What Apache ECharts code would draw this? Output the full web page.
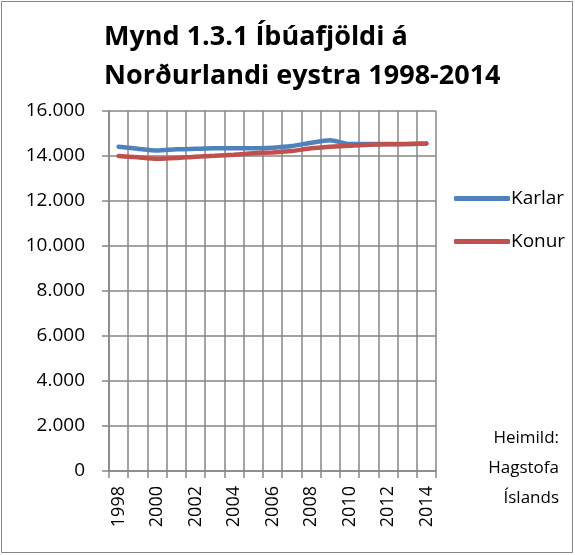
<!DOCTYPE html>
<html>
<head>
<meta charset="utf-8">
<title>Íbúafjöldi á Norðurlandi eystra</title>
<script src="https://cdn.jsdelivr.net/npm/echarts@6/dist/echarts.min.js"></script>
<style>
  html, body { margin: 0; padding: 0; background: #fff; }
  #chart { width: 575px; height: 555px; }
</style>
</head>
<body>
<div id="chart"></div>
<script>
// ár og mannfjöldi (lesið af myndinni)
var years = ['1998','1999','2000','2001','2002','2003','2004','2005','2006',
             '2007','2008','2009','2010','2011','2012','2013','2014'];
var karlar = [14410, 14320, 14240, 14300, 14320, 14340, 14340, 14340, 14370,
              14440, 14590, 14700, 14530, 14530, 14530, 14530, 14560];
var konur  = [14000, 13940, 13880, 13910, 13970, 14010, 14060, 14120, 14160,
              14220, 14340, 14410, 14460, 14500, 14520, 14530, 14550];
var yTicks = { min: 0, max: 16000, step: 2000 };
var source = ['Heimild:', 'Hagstofa', 'Íslands'];

var grey = '#868686';
var font = 'Open Sans';

var graphics = [
  { type: 'rect', shape: { x: 1.5, y: 1.5, width: 571, height: 551 },
    style: { fill: 'none', stroke: grey, lineWidth: 1 } },
  { type: 'text', x: 104, y: 18,
    style: { text: 'Mynd 1.3.1 Íbúafjöldi á\nNorðurlandi eystra 1998-2014',
             font: 'bold 27px "Open Sans"', fill: '#000', lineHeight: 39 } }
];
// heimild, hægrijöfnuð lína fyrir línu
source.forEach(function (s, i) {
  graphics.push({ type: 'text', x: 559, y: 430 + i * 30,
    style: { text: s, align: 'right', textAlign: 'right',
             font: '17px "Open Sans"', fill: '#000' } });
});

var chart = echarts.init(document.getElementById('chart'));
chart.setOption({
  animation: false,
  backgroundColor: '#fff',
  graphic: graphics,
  legend: {
    orient: 'vertical', left: 449, top: 184, itemGap: 24,
    itemWidth: 56, itemHeight: 5, icon: 'roundRect',
    textStyle: { fontFamily: font, fontSize: 19, color: '#000', padding: [0, 0, 0, -4] },
    data: ['Karlar', 'Konur']
  },
  grid: { left: 109, right: 139, top: 111, bottom: 84 },
  xAxis: {
    type: 'category', data: years, boundaryGap: true,
    axisLine: { lineStyle: { color: grey, width: 1.5 } },
    axisTick: { show: true, interval: 0, length: 7, lineStyle: { color: grey, width: 1.5 } },
    splitLine: { show: true, interval: 0, lineStyle: { color: grey, width: 1.5 } },
    axisLabel: { interval: 1, rotate: 90, margin: 15, color: '#000',
                 fontFamily: font, fontSize: 18 }
  },
  yAxis: {
    type: 'value', min: yTicks.min, max: yTicks.max, interval: yTicks.step,
    axisLine: { show: true, lineStyle: { color: grey, width: 1.5 } },
    axisTick: { show: true, length: 7, lineStyle: { color: grey, width: 1.5 } },
    splitLine: { show: true, lineStyle: { color: grey, width: 1.5 } },
    axisLabel: { margin: 24, color: '#000', fontFamily: font, fontSize: 19,
      formatter: function (v) { return v.toLocaleString('de-DE'); } }
  },
  series: [
    { name: 'Karlar', type: 'line', data: karlar, showSymbol: false, smooth: 0.2,
      color: '#4F81BD', lineStyle: { width: 4.5, cap: 'round' } },
    { name: 'Konur', type: 'line', data: konur, showSymbol: false, smooth: 0.2,
      color: '#C0504D', lineStyle: { width: 4.5, cap: 'round' } }
  ]
});
</script>
</body>
</html>
